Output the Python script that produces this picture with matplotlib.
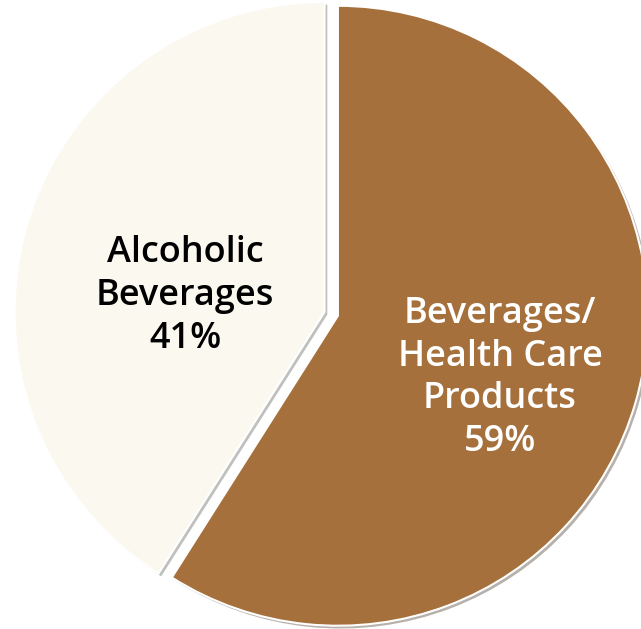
import matplotlib
matplotlib.use("Agg")
import matplotlib.pyplot as plt
import matplotlib.patheffects as pe

# share of products
labels = ["Beverages/\nHealth Care\nProducts", "Alcoholic\nBeverages"]
shares = [59, 41]
colors = ["#A5703B", "#FBF9EF"]
text_colors = ["white", "black"]
text_pos = [(0.542, -0.206), (-0.474, 0.058)]

plt.rcParams['font.family'] = ['Open Sans', 'DejaVu Sans']

fig = plt.figure(figsize=(6.41, 6.29), dpi=100)
ax = fig.add_axes([0, 0, 1, 1])

names = iter(labels)
wedges, texts, autotexts = ax.pie(
    shares, colors=colors, startangle=90, counterclock=False,
    explode=[0.02, 0.025], radius=1.0,
    autopct=lambda p: f"{next(names)}\n{p:.0f}%",
    wedgeprops=dict(edgecolor="white", linewidth=1.5),
    textprops=dict(fontsize=26, fontweight="semibold", linespacing=1.25),
)

for w in wedges:
    w.set_path_effects([pe.SimplePatchShadow(offset=(2, -2), alpha=0.35),
                        pe.Normal()])

for t, c, pos in zip(autotexts, text_colors, text_pos):
    t.set_color(c)
    t.set_position(pos)
    t.set_ha("center")
    t.set_va("center")

ax.set_xlim(-1.071, 0.997)
ax.set_ylim(-1.016, 1.013)
ax.set_aspect("equal")
ax.axis("off")

fig.savefig("out.png", dpi=100)
